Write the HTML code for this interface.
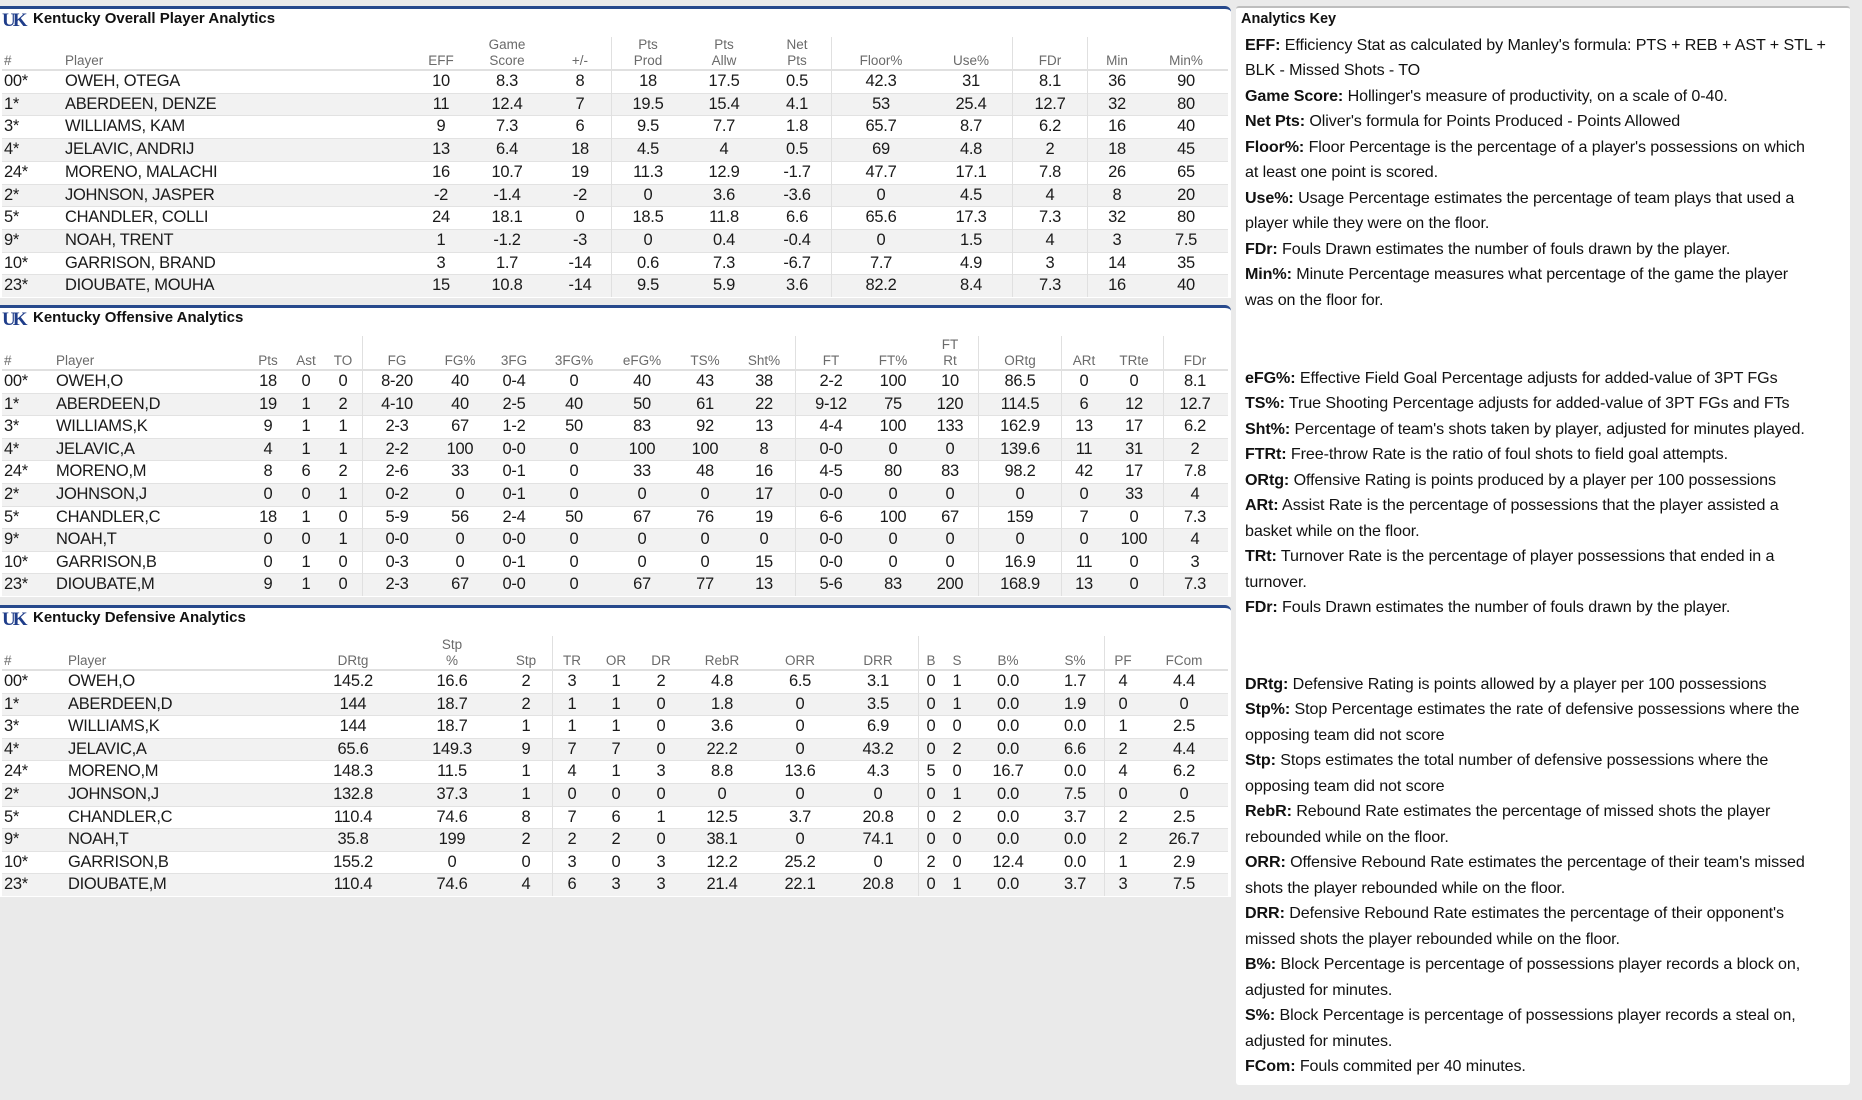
<!DOCTYPE html>
<html><head><meta charset="utf-8">
<style>
html,body{margin:0;padding:0}
body{width:1862px;height:1100px;background:#eaeaea;position:relative;overflow:hidden;font-family:"Liberation Sans",sans-serif;}
.panel{position:absolute;left:0;width:1231px;background:#fff;border-top:3px solid #27498c;border-top-right-radius:6px;box-sizing:border-box}
.t{position:absolute;white-space:nowrap}
.title{font-weight:bold;font-size:15px;color:#111}
.logo{font-weight:bold;font-size:19px;color:#1f3d8a;letter-spacing:-3px;font-family:"Liberation Serif",serif}
.hd{font-size:13.5px;color:#6a6a6a;line-height:16px;text-align:center}
.cell{font-size:16.5px;color:#1a1a1a;letter-spacing:-0.3px}
.kl{position:absolute;left:1245px;font-size:16.1px;color:#111;white-space:nowrap;line-height:20px;letter-spacing:-0.1px}
.kl b{font-weight:bold}
</style></head><body>
<div id="root"></div>
<div style="position:absolute;left:1236px;top:6px;width:614px;height:1077px;background:#fff;border-top:2px solid #bdbdbd;border-radius:3px"></div>
<div class="t title" style="left:1241px;top:11px;font-size:14.5px">Analytics Key</div>
<div id="keys">
<div class="kl" style="top:35px"><b>EFF:</b> Efficiency Stat as calculated by Manley's formula: PTS + REB + AST + STL +</div>
<div class="kl" style="top:60px">BLK - Missed Shots - TO</div>
<div class="kl" style="top:86px"><b>Game Score:</b> Hollinger's measure of productivity, on a scale of 0-40.</div>
<div class="kl" style="top:111px"><b>Net Pts:</b> Oliver's formula for Points Produced - Points Allowed</div>
<div class="kl" style="top:137px"><b>Floor%:</b> Floor Percentage is the percentage of a player's possessions on which</div>
<div class="kl" style="top:162px">at least one point is scored.</div>
<div class="kl" style="top:188px"><b>Use%:</b> Usage Percentage estimates the percentage of team plays that used a</div>
<div class="kl" style="top:213px">player while they were on the floor.</div>
<div class="kl" style="top:239px"><b>FDr:</b> Fouls Drawn estimates the number of fouls drawn by the player.</div>
<div class="kl" style="top:264px"><b>Min%:</b> Minute Percentage measures what percentage of the game the player</div>
<div class="kl" style="top:290px">was on the floor for.</div>

<div class="kl" style="top:368px"><b>eFG%:</b> Effective Field Goal Percentage adjusts for added-value of 3PT FGs</div>
<div class="kl" style="top:393px"><b>TS%:</b> True Shooting Percentage adjusts for added-value of 3PT FGs and FTs</div>
<div class="kl" style="top:419px"><b>Sht%:</b> Percentage of team's shots taken by player, adjusted for minutes played.</div>
<div class="kl" style="top:444px"><b>FTRt:</b> Free-throw Rate is the ratio of foul shots to field goal attempts.</div>
<div class="kl" style="top:470px"><b>ORtg:</b> Offensive Rating is points produced by a player per 100 possessions</div>
<div class="kl" style="top:495px"><b>ARt:</b> Assist Rate is the percentage of possessions that the player assisted a</div>
<div class="kl" style="top:521px">basket while on the floor.</div>
<div class="kl" style="top:546px"><b>TRt:</b> Turnover Rate is the percentage of player possessions that ended in a</div>
<div class="kl" style="top:572px">turnover.</div>
<div class="kl" style="top:597px"><b>FDr:</b> Fouls Drawn estimates the number of fouls drawn by the player.</div>

<div class="kl" style="top:674px"><b>DRtg:</b> Defensive Rating is points allowed by a player per 100 possessions</div>
<div class="kl" style="top:699px"><b>Stp%:</b> Stop Percentage estimates the rate of defensive possessions where the</div>
<div class="kl" style="top:725px">opposing team did not score</div>
<div class="kl" style="top:750px"><b>Stp:</b> Stops estimates the total number of defensive possessions where the</div>
<div class="kl" style="top:776px">opposing team did not score</div>
<div class="kl" style="top:801px"><b>RebR:</b> Rebound Rate estimates the percentage of missed shots the player</div>
<div class="kl" style="top:827px">rebounded while on the floor.</div>
<div class="kl" style="top:852px"><b>ORR:</b> Offensive Rebound Rate estimates the percentage of their team's missed</div>
<div class="kl" style="top:878px">shots the player rebounded while on the floor.</div>
<div class="kl" style="top:903px"><b>DRR:</b> Defensive Rebound Rate estimates the percentage of their opponent's</div>
<div class="kl" style="top:929px">missed shots the player rebounded while on the floor.</div>
<div class="kl" style="top:954px"><b>B%:</b> Block Percentage is percentage of possessions player records a block on,</div>
<div class="kl" style="top:980px">adjusted for minutes.</div>
<div class="kl" style="top:1005px"><b>S%:</b> Block Percentage is percentage of possessions player records a steal on,</div>
<div class="kl" style="top:1031px">adjusted for minutes.</div>
<div class="kl" style="top:1056px"><b>FCom:</b> Fouls commited per 40 minutes.</div>
</div>
<script>
var root=document.getElementById('root');
function add(html){root.insertAdjacentHTML('beforeend',html);}
function section(o){
  var top=o.top, hb=o.hb, h=o.h, n=o.rows.length;
  var bottom=hb+h*n;
  add('<div class="panel" style="top:'+top+'px;height:'+(bottom-top+1)+'px"></div>');
  add('<div class="t logo" style="left:2px;top:'+(top+4)+'px">UK</div>');
  add('<div class="t title" style="left:33px;top:'+(top+4)+'px">'+o.title+'</div>');
  for(var i=0;i<n;i++){
    var y=hb+i*h;
    add('<div class="t" style="left:2px;width:1226px;top:'+y+'px;height:'+h+'px;background:'+(i%2?'#f2f2f2':'#fff')+';border-top:1px solid #e2e2e2;box-sizing:border-box"></div>');
  }
  add('<div class="t" style="left:2px;width:1226px;top:'+(hb-1)+'px;height:2px;background:#e0e0e0"></div>');
  o.seps.forEach(function(x){add('<div class="t" style="left:'+x+'px;top:'+(top+31)+'px;width:1px;height:'+(bottom-top-31)+'px;background:#e0e0e0"></div>');});
  o.cols.forEach(function(c,j){
    var lab=c[1];
    if(c[2]=='l') add('<div class="t hd" style="left:'+c[0]+'px;top:'+(hb-17)+'px;text-align:left">'+lab+'</div>');
    else add('<div class="t hd" style="left:'+(c[0]-50)+'px;width:100px;bottom:'+(1100-hb+1)+'px">'+lab+'</div>');
    for(var i=0;i<n;i++){
      var v=o.rows[i][j], y=hb+i*h;
      if(c[2]=='l') add('<div class="t cell" style="left:'+c[0]+'px;top:'+y+'px;line-height:'+h+'px">'+v+'</div>');
      else add('<div class="t cell" style="left:'+(c[0]-50)+'px;width:100px;text-align:center;top:'+y+'px;line-height:'+h+'px">'+v+'</div>');
    }
  });
}
section({top:6,hb:70,h:22.7,title:'Kentucky Overall Player Analytics',seps:[611,831,1012,1087],
cols:[[4,'#','l'],[65,'Player','l'],[441,'EFF'],[507,'Game<br>Score'],[580,'+/-'],[648,'Pts<br>Prod'],[724,'Pts<br>Allw'],[797,'Net<br>Pts'],[881,'Floor%'],[971,'Use%'],[1050,'FDr'],[1117,'Min'],[1186,'Min%']],
rows:[
['00*','OWEH, OTEGA',10,8.3,8,18,17.5,0.5,42.3,31,8.1,36,90],
['1*','ABERDEEN, DENZE',11,12.4,7,19.5,15.4,4.1,53,25.4,12.7,32,80],
['3*','WILLIAMS, KAM',9,7.3,6,9.5,7.7,1.8,65.7,8.7,6.2,16,40],
['4*','JELAVIC, ANDRIJ',13,6.4,18,4.5,4,0.5,69,4.8,2,18,45],
['24*','MORENO, MALACHI',16,10.7,19,11.3,12.9,-1.7,47.7,17.1,7.8,26,65],
['2*','JOHNSON, JASPER',-2,-1.4,-2,0,3.6,-3.6,0,4.5,4,8,20],
['5*','CHANDLER, COLLI',24,18.1,0,18.5,11.8,6.6,65.6,17.3,7.3,32,80],
['9*','NOAH, TRENT',1,-1.2,-3,0,0.4,-0.4,0,1.5,4,3,7.5],
['10*','GARRISON, BRAND',3,1.7,-14,0.6,7.3,-6.7,7.7,4.9,3,14,35],
['23*','DIOUBATE, MOUHA',15,10.8,-14,9.5,5.9,3.6,82.2,8.4,7.3,16,40]]});
section({top:305,hb:370,h:22.6,title:'Kentucky Offensive Analytics',seps:[362,795,978,1061,1163],
cols:[[4,'#','l'],[56,'Player','l'],[268,'Pts'],[306,'Ast'],[343,'TO'],[397,'FG'],[460,'FG%'],[514,'3FG'],[574,'3FG%'],[642,'eFG%'],[705,'TS%'],[764,'Sht%'],[831,'FT'],[893,'FT%'],[950,'FT<br>Rt'],[1020,'ORtg'],[1084,'ARt'],[1134,'TRte'],[1195,'FDr']],
rows:[
['00*','OWEH,O',18,0,0,'8-20',40,'0-4',0,40,43,38,'2-2',100,10,86.5,0,0,8.1],
['1*','ABERDEEN,D',19,1,2,'4-10',40,'2-5',40,50,61,22,'9-12',75,120,114.5,6,12,12.7],
['3*','WILLIAMS,K',9,1,1,'2-3',67,'1-2',50,83,92,13,'4-4',100,133,162.9,13,17,6.2],
['4*','JELAVIC,A',4,1,1,'2-2',100,'0-0',0,100,100,8,'0-0',0,0,139.6,11,31,2],
['24*','MORENO,M',8,6,2,'2-6',33,'0-1',0,33,48,16,'4-5',80,83,98.2,42,17,7.8],
['2*','JOHNSON,J',0,0,1,'0-2',0,'0-1',0,0,0,17,'0-0',0,0,0,0,33,4],
['5*','CHANDLER,C',18,1,0,'5-9',56,'2-4',50,67,76,19,'6-6',100,67,159,7,0,7.3],
['9*','NOAH,T',0,0,1,'0-0',0,'0-0',0,0,0,0,'0-0',0,0,0,0,100,4],
['10*','GARRISON,B',0,1,0,'0-3',0,'0-1',0,0,0,15,'0-0',0,0,16.9,11,0,3],
['23*','DIOUBATE,M',9,1,0,'2-3',67,'0-0',0,67,77,13,'5-6',83,200,168.9,13,0,7.3]]});
section({top:605,hb:670,h:22.6,title:'Kentucky Defensive Analytics',seps:[552,918,1104],
cols:[[4,'#','l'],[68,'Player','l'],[353,'DRtg'],[452,'Stp<br>%'],[526,'Stp'],[572,'TR'],[616,'OR'],[661,'DR'],[722,'RebR'],[800,'ORR'],[878,'DRR'],[931,'B'],[957,'S'],[1008,'B%'],[1075,'S%'],[1123,'PF'],[1184,'FCom']],
rows:[
['00*','OWEH,O',145.2,16.6,2,3,1,2,4.8,6.5,3.1,0,1,'0.0',1.7,4,4.4],
['1*','ABERDEEN,D',144,18.7,2,1,1,0,1.8,0,3.5,0,1,'0.0',1.9,0,0],
['3*','WILLIAMS,K',144,18.7,1,1,1,0,3.6,0,6.9,0,0,'0.0','0.0',1,2.5],
['4*','JELAVIC,A',65.6,149.3,9,7,7,0,22.2,0,43.2,0,2,'0.0',6.6,2,4.4],
['24*','MORENO,M',148.3,11.5,1,4,1,3,8.8,13.6,4.3,5,0,16.7,'0.0',4,6.2],
['2*','JOHNSON,J',132.8,37.3,1,0,0,0,0,0,0,0,1,'0.0',7.5,0,0],
['5*','CHANDLER,C',110.4,74.6,8,7,6,1,12.5,3.7,20.8,0,2,'0.0',3.7,2,2.5],
['9*','NOAH,T',35.8,199,2,2,2,0,38.1,0,74.1,0,0,'0.0','0.0',2,26.7],
['10*','GARRISON,B',155.2,0,0,3,0,3,12.2,25.2,0,2,0,12.4,'0.0',1,2.9],
['23*','DIOUBATE,M',110.4,74.6,4,6,3,3,21.4,22.1,20.8,0,1,'0.0',3.7,3,7.5]]});
</script>
</body></html>
